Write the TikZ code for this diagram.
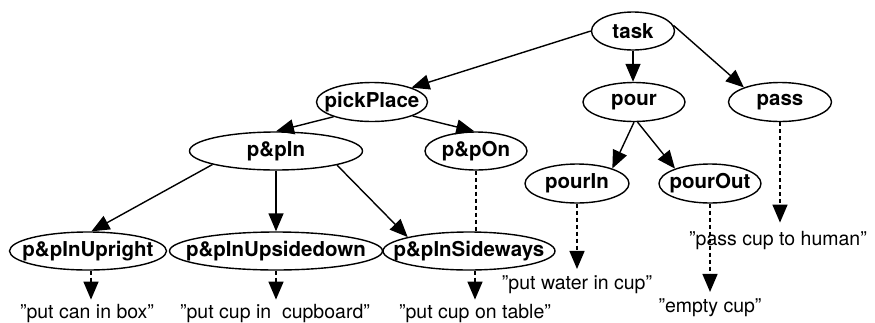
\documentclass[tikz,border=0pt]{standalone}
\usepackage{fontspec}
\setmainfont{TeX Gyre Heros}
\usetikzlibrary{shapes.geometric,arrows.meta}
\begin{document}
\begin{tikzpicture}[x=1pt,y=-1pt,
  tnode/.style={ellipse,draw,line width=1.4pt,inner xsep=-150pt,inner ysep=-30pt,
    minimum height=38pt,font=\bfseries\fontsize{20.5}{20}\selectfont},
  lbl/.style={anchor=base,inner xsep=0pt,font=\fontsize{19.5}{20}\selectfont},
  sarr/.style={line width=1.4pt,-{Triangle[length=18pt,width=15pt]}},
  darr/.style={line width=1.4pt,dash pattern=on 4pt off 3pt,-{Triangle[length=18pt,width=15pt]}},
  dline/.style={line width=1.4pt,dash pattern=on 4pt off 3pt}]
\useasboundingbox (0,0) rectangle (875,322);
\node[tnode,minimum width=83pt] (task) at (633,31) {task};
\node[tnode,minimum width=111pt,minimum height=39pt] (pick) at (372,102) {pickPlace};
\node[tnode,minimum width=102pt,minimum height=39pt] (pour) at (634,102) {pour};
\node[tnode,minimum width=103pt,minimum height=39pt] (pass) at (780,102) {pass};
\node[tnode,minimum width=173pt] (ppin) at (276,151) {p\&pIn};
\node[tnode,minimum width=102pt] (ppon) at (476,151) {p\&pOn};
\node[tnode,minimum width=104pt,minimum height=39pt] (pin) at (577,183.5) {pourIn};
\node[tnode,minimum width=102pt,minimum height=39pt] (pout) at (710,183.5) {pourOut};
\node[tnode,minimum width=157pt] (up) at (88,251) {p\&pInUpright};
\node[tnode,minimum width=213pt] (usd) at (276,251) {p\&pInUpsidedown};
\node[tnode,minimum width=172pt] (side) at (469,251) {p\&pInSideways};

\node[lbl,inner ysep=4pt] (l1) at (87,318) {"put can in box"};
\node[lbl,inner ysep=4pt] (l2) at (275,318) {"put cup in~~cupboard"};
\node[lbl,inner ysep=4pt] (l3) at (475,318) {"put cup on table"};
\node[lbl,inner ysep=6pt] (l4) at (577,289) {"put water in cup"};
\node[lbl,inner ysep=6pt] (l5) at (710,312) {"empty cup"};
\node[lbl,inner ysep=8pt] (l6) at (778,245) {"pass cup to human"};

\draw[sarr] (task.west) -- (pick.20);
\draw[sarr] (task.south) -- (task.south |- pour.north);
\draw[sarr] (task.8) -- (pass.158);
\draw[sarr] (pick.201) -- (ppin.north);
\draw[sarr] (pick.-19) -- (ppon.95);
\draw[sarr] (ppin.192.5) -- (up.80);
\draw[sarr] (ppin.south) -- (usd.north);
\draw[sarr] (ppin.-13) -- (side.north west);
\draw[sarr] (pour.south) -- (pin.23);
\draw[sarr] (pour.-80) -- (pout.157);

\draw[dline] (ppon.south) -- (ppon.south |- side.north);
\draw[darr] ([xshift=3pt]up.south) -- ([xshift=3pt]up.south |- l1.north);
\draw[darr] (usd.south) -- (usd.south |- l2.north);
\draw[darr] (side.south -| l3.north) -- (l3.north);
\draw[darr] (pin.south) -- (pin.south |- l4.north);
\draw[darr] (pout.south) -- (pout.south |- l5.north);
\draw[darr] (pass.south) -- (pass.south |- l6.north);
\end{tikzpicture}
\end{document}
